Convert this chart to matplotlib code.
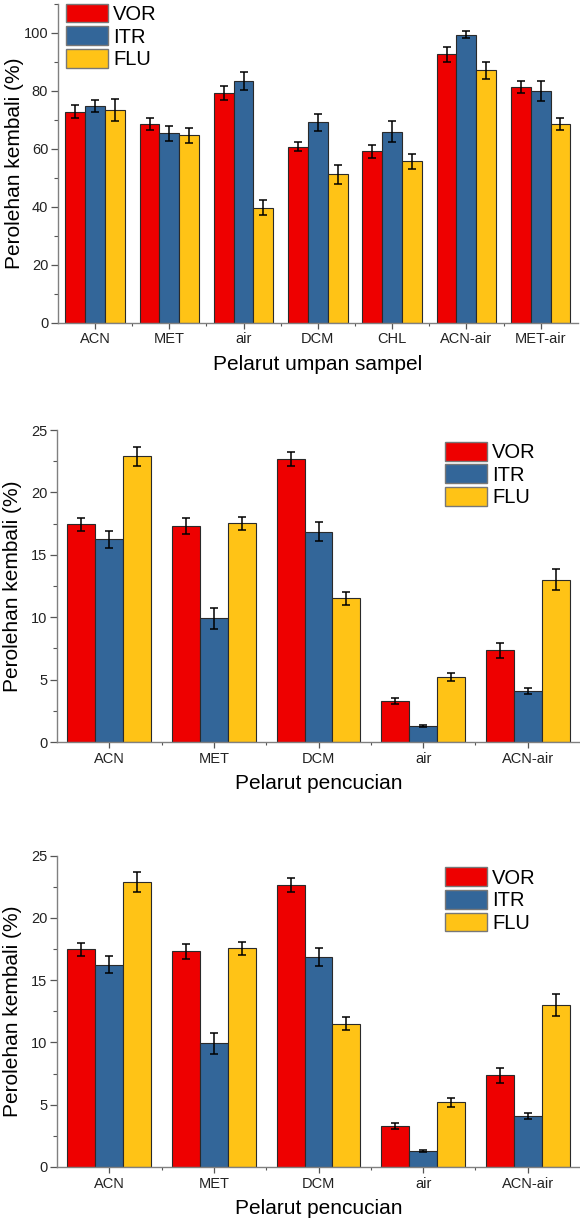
import matplotlib
matplotlib.use("Agg")
import matplotlib.pyplot as plt
import numpy as np
from matplotlib.ticker import MultipleLocator, FixedLocator

plt.rcParams['font.family'] = ['Liberation Sans', 'DejaVu Sans']

# ---- data ----
series = ["VOR", "ITR", "FLU"]
colors = ["#EE0000", "#336699", "#FFC316"]

cats1 = ["ACN", "MET", "air", "DCM", "CHL", "ACN-air", "MET-air"]
vor1 = [72.8, 68.5, 79.3, 60.7, 59.1, 92.5, 81.3]
itr1 = [74.7, 65.3, 83.4, 69.1, 65.9, 99.3, 80.0]
flu1 = [73.2, 64.7, 39.7, 51.2, 55.6, 87.1, 68.5]
vor1_err = [2.3, 2.2, 2.4, 1.6, 2.2, 2.5, 2.2]
itr1_err = [2.2, 2.5, 3.2, 2.9, 3.7, 1.2, 3.5]
flu1_err = [3.8, 2.6, 2.6, 3.3, 2.7, 2.9, 2.0]

cats2 = ["ACN", "MET", "DCM", "air", "ACN-air"]
vor2 = [17.46, 17.30, 22.64, 3.27, 7.35]
itr2 = [16.23, 9.92, 16.85, 1.29, 4.10]
flu2 = [22.88, 17.54, 11.51, 5.18, 13.01]
vor2_err = [0.52, 0.62, 0.56, 0.24, 0.59]
itr2_err = [0.70, 0.85, 0.74, 0.05, 0.24]
flu2_err = [0.79, 0.52, 0.51, 0.33, 0.86]

xlabel1 = "Pelarut umpan sampel"
xlabel2 = "Pelarut pencucian"
ylabel = "Perolehan kembali (%)"

W, H = 580, 1220
fig = plt.figure(figsize=(W / 100, H / 100), dpi=100)


def px_axes(left, right, top, bottom):
    return fig.add_axes([left / W, 1 - bottom / H, (right - left) / W, (bottom - top) / H])


def draw(ax, cats, vals, errs, ymax, major, minor, xlabel, leg_anchor):
    n = len(cats)
    x = np.arange(n)
    bw = 0.8 / 3
    handles = []
    for i, (v, e, c, name) in enumerate(zip(vals, errs, colors, series)):
        pos = x + (i - 1) * bw
        b = ax.bar(pos, v, width=bw, color=c, edgecolor="#2a2a2a", linewidth=0.8,
                   label=name, zorder=2)
        ax.errorbar(pos, v, yerr=e, fmt="none", ecolor="black", elinewidth=1.1,
                    capsize=2.8, capthick=1.1, zorder=3)
        handles.append(b)
    ax.set_xlim(-0.5, n - 0.5)
    ax.set_ylim(0, ymax)
    ax.set_xticks(x)
    ax.set_xticklabels(cats)
    ax.xaxis.set_minor_locator(FixedLocator(np.arange(0.5, n - 0.5, 1.0)))
    ax.yaxis.set_major_locator(MultipleLocator(major))
    ax.yaxis.set_minor_locator(MultipleLocator(minor))
    for s in ["top", "right"]:
        ax.spines[s].set_visible(False)
    for s in ["left", "bottom"]:
        ax.spines[s].set_color("#808080")
        ax.spines[s].set_linewidth(1.0)
    ax.tick_params(axis="y", which="major", direction="out", length=5, width=0.9,
                   color="#555555", labelsize=10.5, labelcolor="#222222", pad=2)
    ax.tick_params(axis="y", which="minor", direction="out", length=3, width=0.8,
                   color="#555555")
    ax.tick_params(axis="x", which="major", direction="out", length=4, width=0.9,
                   color="#555555", labelsize=10.5, labelcolor="#222222", pad=3)
    ax.tick_params(axis="x", which="minor", direction="out", length=2.5, width=0.8,
                   color="#555555")
    ax.set_xlabel(xlabel, fontsize=15, labelpad=6)
    ax.set_ylabel(ylabel, fontsize=15)
    ax.yaxis.set_label_coords(-0.066, 0.5)
    leg = ax.legend(handles=handles, loc="upper left", bbox_to_anchor=leg_anchor,
                    frameon=False, fontsize=14.5, borderpad=0, borderaxespad=0,
                    handlelength=2.1, handleheight=1.05, handletextpad=0.25,
                    labelspacing=0.12)
    for p in leg.get_patches():
        p.set_edgecolor("#777777")
        p.set_linewidth(1.0)


ax1 = px_axes(57.9, 577.8, 3.7, 322.7)
draw(ax1, cats1, [vor1, itr1, flu1], [vor1_err, itr1_err, flu1_err], 110, 20, 10,
     xlabel1, (0.0156, 1.0))

ax2 = px_axes(57.0, 580.0, 430.0, 742.0)
draw(ax2, cats2, [vor2, itr2, flu2], [vor2_err, itr2_err, flu2_err], 25, 5, 2.5,
     xlabel2, (0.742, 0.962))

ax3 = px_axes(57.0, 580.0, 855.5, 1167.0)
draw(ax3, cats2, [vor2, itr2, flu2], [vor2_err, itr2_err, flu2_err], 25, 5, 2.5,
     xlabel2, (0.742, 0.962))

fig.savefig("out.png", dpi=100)
